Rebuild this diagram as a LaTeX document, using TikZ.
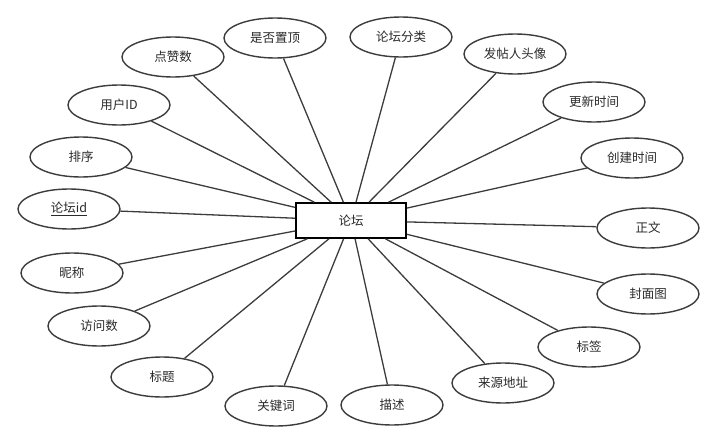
\documentclass[tikz,border=0pt]{standalone}
\usepackage{fontspec}
\setmainfont{Noto Sans CJK SC}
\usetikzlibrary{shapes.geometric}
\definecolor{linegray}{HTML}{3C3C3C}
\definecolor{textgray}{HTML}{2A2A2A}

\begin{document}
\begin{tikzpicture}[x=1pt, y=-1pt,
  ent/.style={rectangle, draw=black, line width=1.6pt, fill=white, minimum width=110pt, minimum height=35pt, inner sep=0pt, font=\fontsize{12.5}{15}\selectfont, text=textgray},
  attr/.style={ellipse, draw=linegray, line width=1.4pt, fill=white, minimum width=102pt, minimum height=40pt, inner sep=0pt, font=\fontsize{12.5}{15}\selectfont, text=textgray},
  lnk/.style={draw=linegray, line width=1.3pt}]
\useasboundingbox (0,0) rectangle (716,442);
\node[ent] (forum) at (351, 220.5) {论坛};
\node[attr] (likes) at (173, 57) {点赞数};
\node[attr] (top) at (275, 38) {是否置顶};
\node[attr] (cat) at (401, 37) {论坛分类};
\node[attr] (avatar) at (515, 54) {发帖人头像};
\node[attr] (upd) at (594, 102) {更新时间};
\node[attr] (crt) at (632, 158) {创建时间};
\node[attr] (body) at (648, 228) {正文};
\node[attr] (cover) at (648, 294) {封面图};
\node[attr] (tag) at (589, 347) {标签};
\node[attr] (src) at (503, 383) {来源地址};
\node[attr] (desc) at (392, 405) {描述};
\node[attr] (kw) at (276, 406) {关键词};
\node[attr] (title) at (162, 377) {标题};
\node[attr] (visits) at (99, 326) {访问数};
\node[attr] (nick) at (72, 273) {昵称};
\node[attr] (fid) at (69, 209) {\underline{论坛id}};
\node[attr] (sort) at (81, 157) {排序};
\node[attr] (uid) at (119, 105) {用户ID};
% attribute links
\foreach \a in {likes, top, cat, avatar, upd, crt, body, cover, tag, src, desc, kw, title, visits, nick, fid, sort, uid}
  \draw[lnk] (\a) -- (forum);
\end{tikzpicture}
\end{document}
